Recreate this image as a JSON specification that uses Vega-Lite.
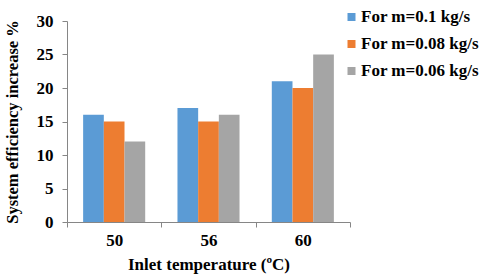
{
  "$schema": "https://vega.github.io/schema/vega-lite/v6.json",
  "autosize": "none",
  "width": 283,
  "height": 201,
  "padding": {"left": 67, "top": 21, "right": 130, "bottom": 56},
  "background": "white",
  "data": {"values": [
    {"temp": "50", "series": "For m=0.1 kg/s", "value": 16},
    {"temp": "50", "series": "For m=0.08 kg/s", "value": 15},
    {"temp": "50", "series": "For m=0.06 kg/s", "value": 12},
    {"temp": "56", "series": "For m=0.1 kg/s", "value": 17},
    {"temp": "56", "series": "For m=0.08 kg/s", "value": 15},
    {"temp": "56", "series": "For m=0.06 kg/s", "value": 16},
    {"temp": "60", "series": "For m=0.1 kg/s", "value": 21},
    {"temp": "60", "series": "For m=0.08 kg/s", "value": 20},
    {"temp": "60", "series": "For m=0.06 kg/s", "value": 25}
  ]},
  "config": {
    "view": {"stroke": null},
    "font": "Liberation Serif",
    "axis": {"grid": false, "domainColor": "#868686", "tickColor": "#868686", "labelColor": "black", "titleColor": "black", "labelFont": "Liberation Serif", "titleFont": "Liberation Serif", "labelFontWeight": "bold", "titleFontWeight": "bold"}
  },
  "mark": {"type": "bar"},
  "encoding": {
    "x": {"field": "temp", "type": "nominal", "sort": ["50", "56", "60"],
      "scale": {"paddingInner": 0, "paddingOuter": 0},
      "axis": {"title": "Inlet temperature (ºC)", "labelAngle": 0, "tickBand": "extent", "tickSize": 5, "labelPadding": 5.5, "labelFontSize": 17, "titleFontSize": 17, "titlePadding": 8}},
    "xOffset": {"field": "series", "type": "nominal", "sort": ["For m=0.1 kg/s", "For m=0.08 kg/s", "For m=0.06 kg/s"],
      "scale": {"paddingInner": 0, "paddingOuter": 0.78}},
    "y": {"field": "value", "type": "quantitative",
      "scale": {"domain": [0, 30]},
      "axis": {"title": "System efficiency increase %", "values": [0, 5, 10, 15, 20, 25, 30], "tickSize": 5, "labelPadding": 9, "labelFontSize": 17, "titleFontSize": 16.5, "titlePadding": 16}},
    "color": {"field": "series", "type": "nominal", "sort": ["For m=0.1 kg/s", "For m=0.08 kg/s", "For m=0.06 kg/s"],
      "scale": {"range": ["#5B9BD5", "#ED7D31", "#A5A5A5"]},
      "legend": {"title": null, "orient": "none", "legendX": 276, "legendY": -12.5, "padding": 0, "symbolType": "square", "symbolSize": 64, "symbolStrokeWidth": 0, "labelFont": "Liberation Serif", "labelFontWeight": "bold", "labelFontSize": 17, "labelColor": "black", "rowPadding": 9, "labelOffset": 1, "labelLimit": 200}}
  }
}
